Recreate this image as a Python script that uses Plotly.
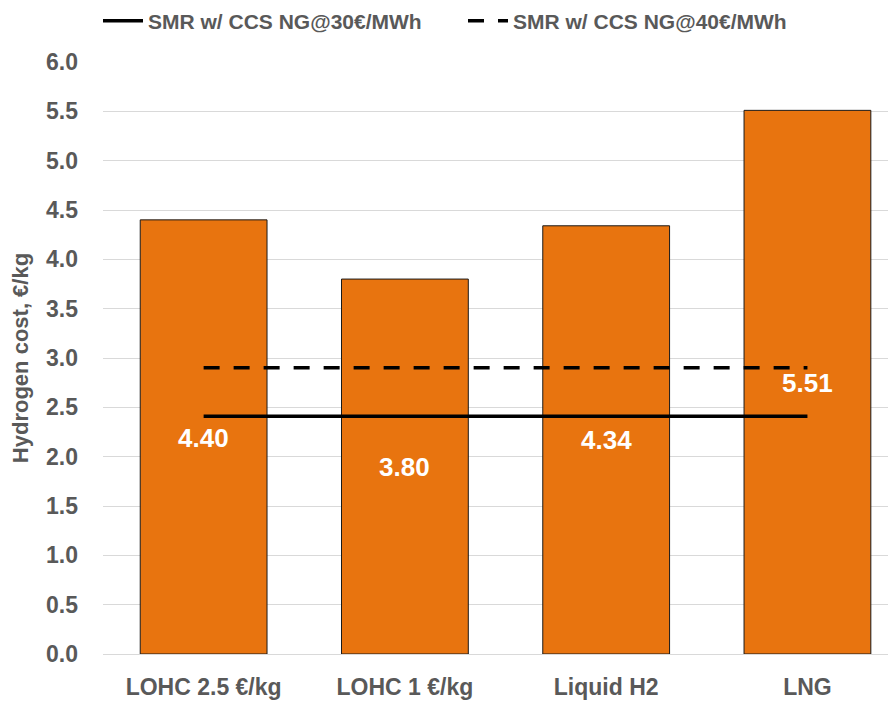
import plotly.graph_objects as go

categories = ["LOHC 2.5 €/kg", "LOHC 1 €/kg", "Liquid H2", "LNG"]
costs = [4.40, 3.80, 4.34, 5.51]
smr_30 = [2.41, 2.41, 2.41, 2.41]
smr_40 = [2.90, 2.90, 2.90, 2.90]
label_y = [2.19, 1.90, 2.17, 2.75]
label_text = ["4.40", "3.80", "4.34", "5.51"]
y_ticks = [0.0, 0.5, 1.0, 1.5, 2.0, 2.5, 3.0, 3.5, 4.0, 4.5, 5.0, 5.5, 6.0]

FONT = "Liberation Sans, Arial, sans-serif"
GREY = "#595959"
W, H = 888, 696

fig = go.Figure()
fig.add_trace(go.Bar(
    x=categories, y=costs, width=0.63,
    marker=dict(color="#E8740F", line=dict(color="#1a1a1a", width=1)),
    showlegend=False, hoverinfo="skip",
))
fig.add_trace(go.Scatter(
    x=categories, y=smr_30, mode="lines", name="<b>SMR w/ CCS NG@30€/MWh</b>",
    line=dict(color="black", width=3.5), legend="legend",
))
fig.add_trace(go.Scatter(
    x=categories, y=smr_40, mode="lines", name="<b>SMR w/ CCS NG@40€/MWh</b>",
    line=dict(color="black", width=3.5, dash="16px,14px"), legend="legend2",
))

for i, (t, yv) in enumerate(zip(label_text, label_y)):
    fig.add_annotation(
        x=i, y=yv, xref="x", yref="y", text="<b>%s</b>" % t,
        showarrow=False, font=dict(family=FONT, size=26, color="white"),
    )

legend_common = dict(
    orientation="h", xanchor="left",
    yref="container", y=(H - 13) / H, yanchor="middle",
    font=dict(family=FONT, size=21, color=GREY),
    itemwidth=40, bgcolor="rgba(0,0,0,0)",
)

fig.update_layout(
    width=W, height=H,
    margin=dict(l=95, r=0, t=54, b=50, autoexpand=False),
    plot_bgcolor="white", paper_bgcolor="white",
    font=dict(family=FONT, color=GREY),
    legend=dict(xref="container", x=90 / W, **legend_common),
    legend2=dict(xref="container", x=455 / W, **legend_common),
)
fig.update_xaxes(
    type="category", range=[-0.5, 3.44],
    tickfont=dict(family=FONT, size=23, color=GREY),
    ticklabelstandoff=17, showline=False, showgrid=False,
    tickprefix="<b>", ticksuffix="</b>",
)
fig.update_yaxes(
    range=[0, 6.0], tickvals=y_ticks, ticktext=["<b>%.1f</b>" % v for v in y_ticks],
    tickfont=dict(family=FONT, size=23, color=GREY),
    showgrid=True, gridcolor="#d9d9d9", gridwidth=1, zeroline=True,
    zerolinecolor="#d9d9d9", zerolinewidth=1, ticklabelstandoff=24,
    title=dict(text="<b>Hydrogen cost, €/kg</b>", font=dict(family=FONT, size=22, color=GREY), standoff=14),
)

fig.write_html("out.html")
